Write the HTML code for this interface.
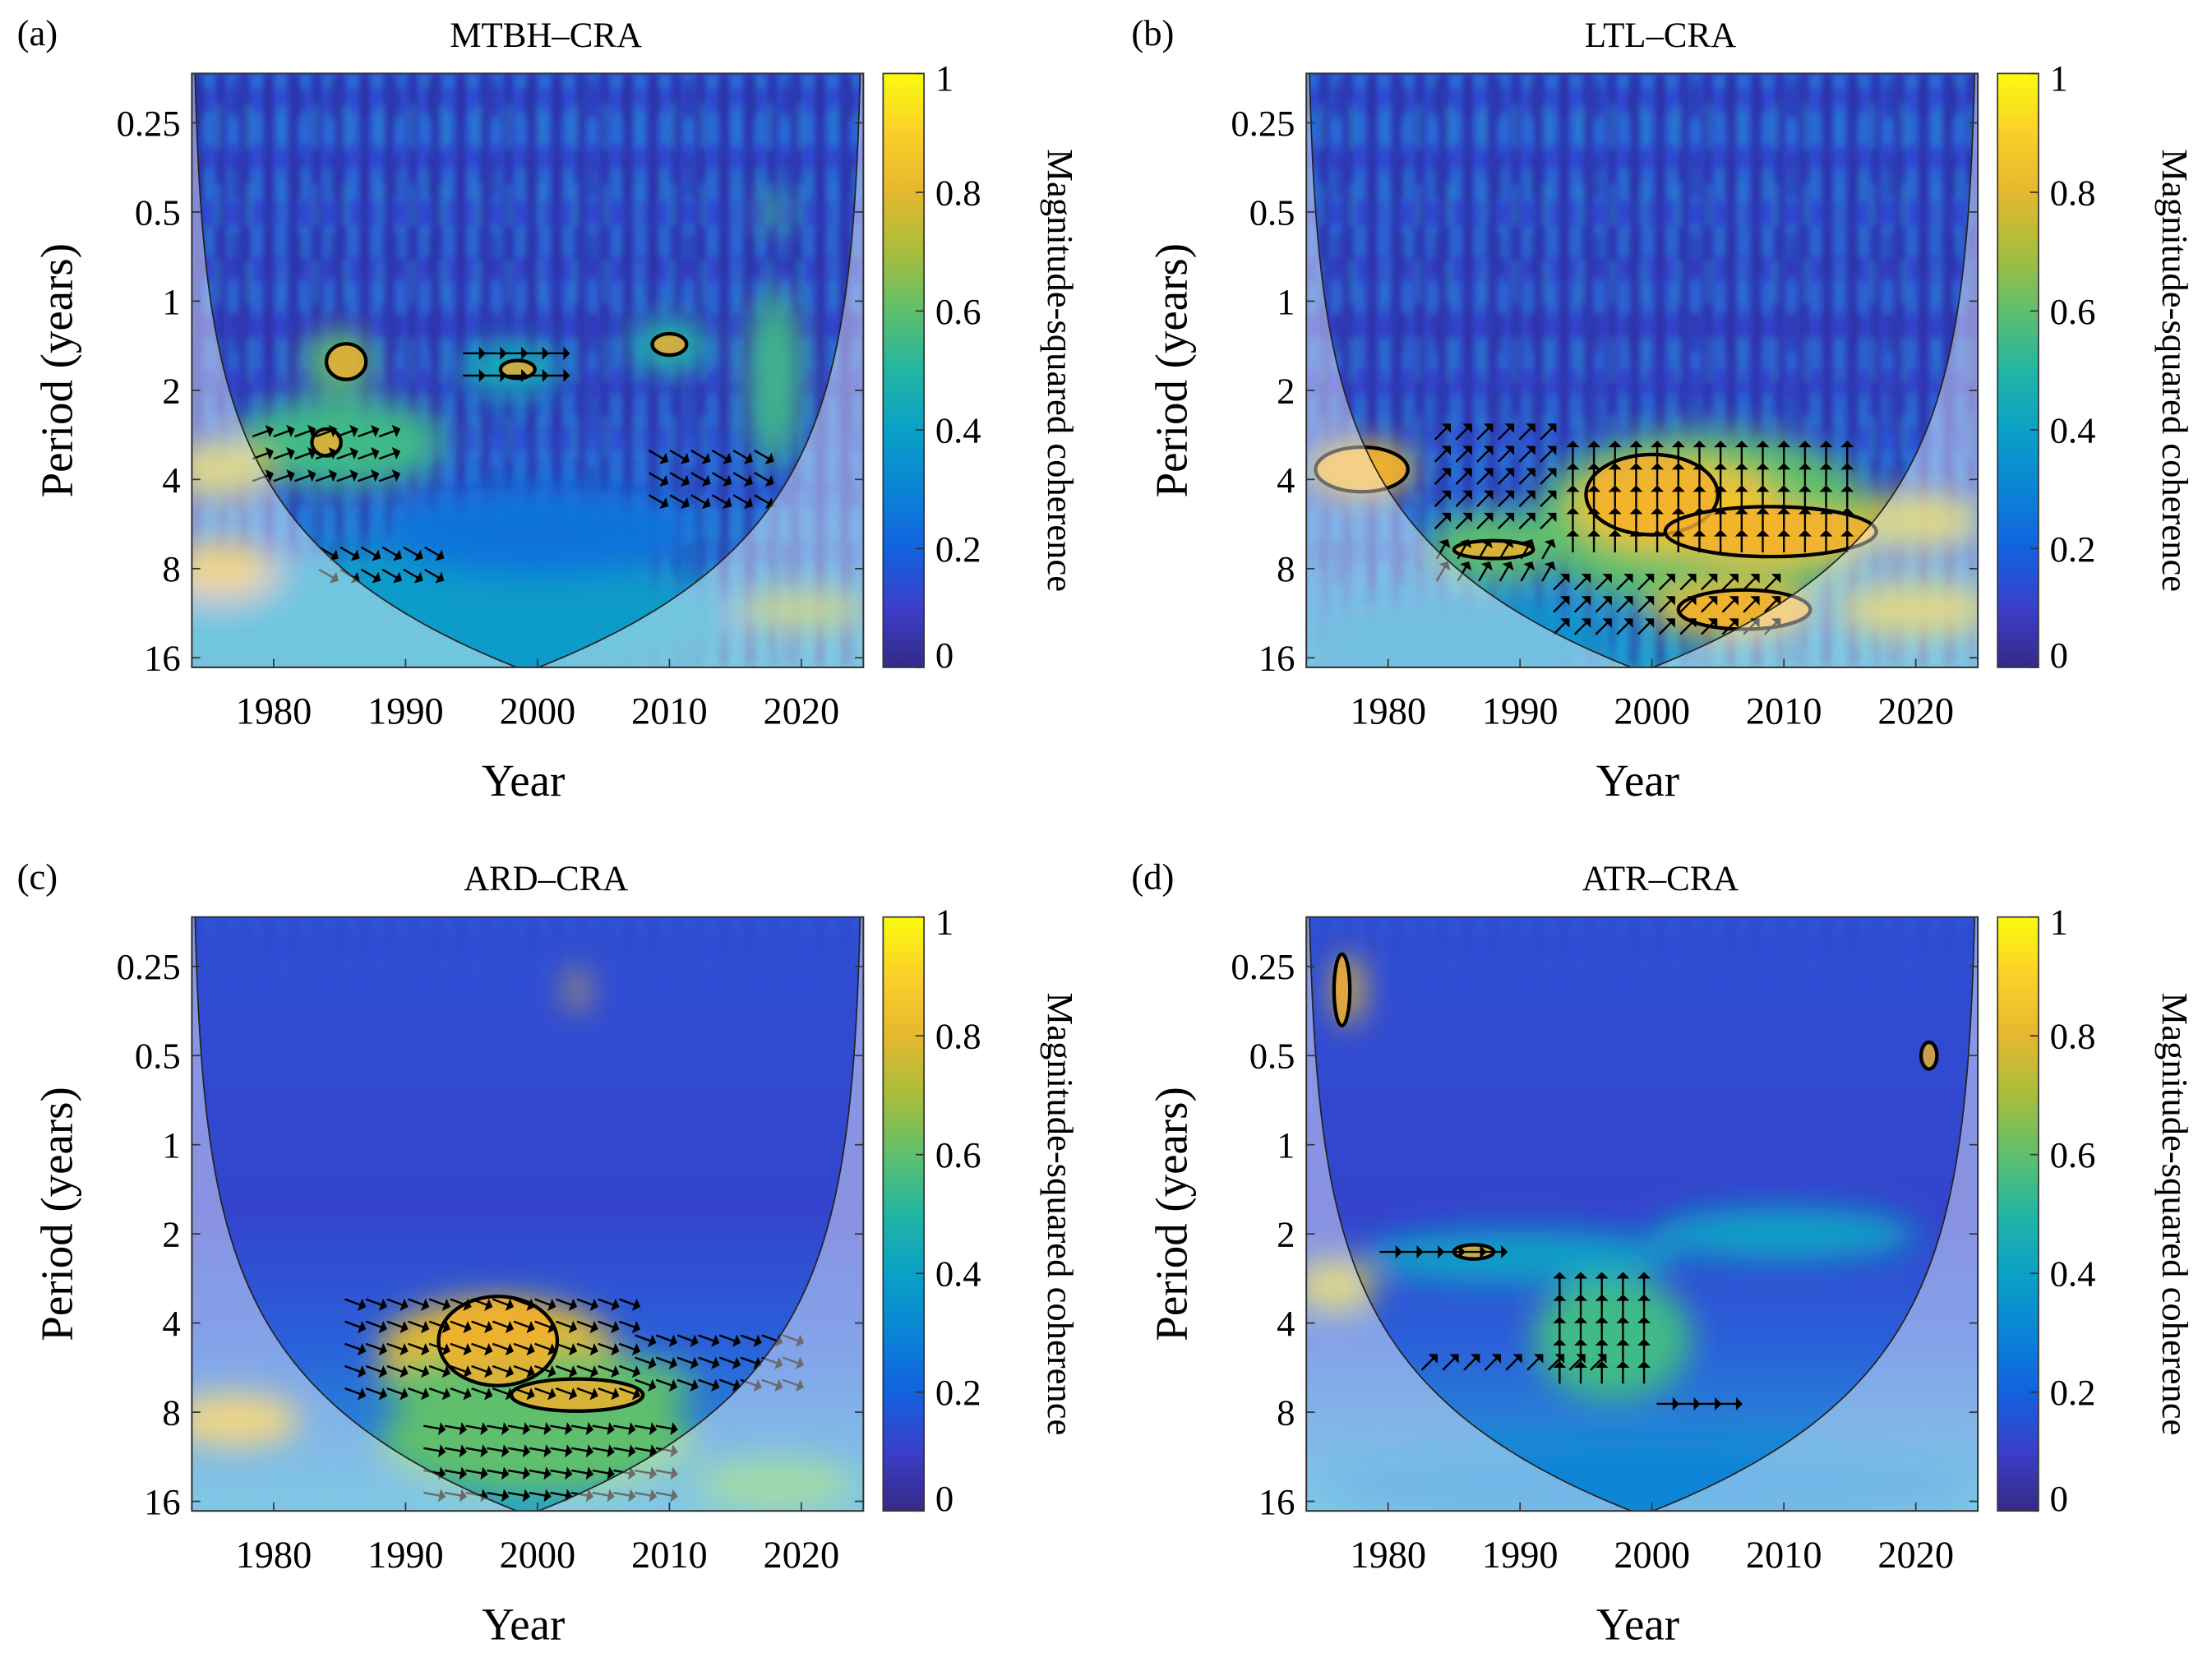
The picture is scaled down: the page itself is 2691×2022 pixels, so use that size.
<!DOCTYPE html>
<html><head><meta charset="utf-8">
<style>
html,body{margin:0;padding:0;background:#fff;}
svg{display:block;}
svg text{font-family:"Liberation Serif","DejaVu Serif",serif;}
</style></head>
<body>
<svg id="fig" width="2691" height="2022" viewBox="0 0 1568 1178" xmlns="http://www.w3.org/2000/svg" font-family="Liberation Serif, serif">
<defs>
<linearGradient id="parula" x1="0" y1="1" x2="0" y2="0">
<stop offset="0" stop-color="#352a87"/><stop offset="0.1" stop-color="#3b3fc9"/>
<stop offset="0.2" stop-color="#1262df"/><stop offset="0.3" stop-color="#0a84d6"/>
<stop offset="0.4" stop-color="#0aa1c6"/><stop offset="0.5" stop-color="#22b5a3"/>
<stop offset="0.6" stop-color="#5fbf6c"/><stop offset="0.7" stop-color="#a8bd3c"/>
<stop offset="0.8" stop-color="#e5b82f"/><stop offset="0.9" stop-color="#fbcf29"/>
<stop offset="1" stop-color="#f9fb0e"/></linearGradient>
<filter id="blur" x="-50%" y="-50%" width="200%" height="200%"><feGaussianBlur stdDeviation="11"/></filter>
<filter id="sblur"><feGaussianBlur stdDeviation="2.5"/></filter>
<pattern id="streaks" width="17" height="40" patternUnits="userSpaceOnUse"><rect width="7" height="40" fill="#2a2590" opacity="0.6"/><rect x="10" width="4" height="22" fill="#16a8d8" opacity="0.55"/></pattern>
<pattern id="streaks2" width="23" height="55" patternUnits="userSpaceOnUse"><rect x="3" width="5" height="30" fill="#2a2590" opacity="0.5"/><rect x="14" y="20" width="4" height="30" fill="#20b0d0" opacity="0.4"/></pattern>
<linearGradient id="streakfade" x1="0" y1="0" x2="0" y2="1"><stop offset="0" stop-color="#fff" stop-opacity="1"/><stop offset="0.4" stop-color="#fff" stop-opacity="0.7"/><stop offset="0.6" stop-color="#fff" stop-opacity="0"/></linearGradient>
<mask id="sm"><rect x="0" y="0" width="1568" height="1178" fill="url(#streakfade)"/></mask>
</defs>
</svg>
<script>
// ---- data ----
const panelLabels = ["(a)","(b)","(c)","(d)"];
const panelTitles = ["MTBH–CRA","LTL–CRA","ARD–CRA","ATR–CRA"];
const yearTicks = [1980,1990,2000,2010,2020];
const periodTicks = [0.25,0.5,1,2,4,8,16];
const periodTickLabels = ["0.25","0.5","1","2","4","8","16"];
const cbTicks = [0,0.2,0.4,0.6,0.8,1];
const cbTickLabels = ["0","0.2","0.4","0.6","0.8","1"];
// blobs: [centerYear, centerPeriod, halfWidthYears, halfHeightOctaves, coherence]
const blobsA = [[1985,3,8,0.5,0.55],[1985,1.6,2.5,0.35,0.6],[1998,1.7,4,0.3,0.45],[2010,1.4,3,0.3,0.5],[2018,1.8,2,1,0.55],[1990,12,25,0.8,0.38],[2000,6,12,0.5,0.25],[1976,8,4,0.3,0.8],[1976,3.7,4,0.3,0.75],[2020,11,5,0.2,0.7],[2018,0.5,1,0.2,0.55]];
const blobsB = [[2004,5.5,13,1.0,0.6],[2002,5.0,8,0.5,0.85],[2009,6.2,7,0.3,0.85],[1988,6.8,5,0.4,0.6],[2006,11,6,0.3,0.8],[1978,3.7,4,0.3,0.8],[2020,5.5,5,0.3,0.75],[2020,11,6,0.3,0.75],[1985,14,12,0.5,0.35]];
const blobsC = [[1997,5,9,0.6,0.8],[2000,10,12,0.6,0.6],[2000,6.5,12,0.4,0.6],[1977,8.5,5,0.3,0.8],[2018,14,6,0.3,0.6],[2003,0.3,0.6,0.25,0.8]];
const blobsD = [[1997,4.5,6,0.7,0.55],[1990,2.4,12,0.3,0.4],[2010,2,10,0.3,0.4],[1977,0.3,1,0.4,0.8],[1976,3,3,0.3,0.75],[2000,14,25,0.5,0.3]];
// significance contours: [centerYear, centerPeriod, halfWidthYears, halfHeightOctaves]
const sigA = [[1985.5,1.6,1.5,0.2],[1984,3,1.1,0.15],[1998.5,1.7,1.3,0.1],[2010,1.4,1.3,0.12]];
const sigB = [[2000,4.5,5,0.45],[2009,6.0,8,0.28],[1988,6.9,3,0.1],[2007,11,5,0.22],[1978,3.7,3.5,0.25]];
const sigC = [[1997,4.6,4.5,0.5],[2003,7,5,0.18]];
const sigD = [[1986.5,2.3,1.5,0.08],[2021,0.5,0.6,0.15],[1976.5,0.3,0.6,0.4]];
// arrow regions: [year0, year1, period0, period1, angleDeg]
const arrowsA = [[1979,1990,2.8,4,20],[1984,1993,7,8.5,-30],[2009,2018,3.3,5.5,-30],[1995,2002,1.5,1.9,0]];
const arrowsB = [[1984,1993,2.8,6,45],[1994,2016,3.3,7,90],[1993,2010,9,14,45],[1984,1992,7,8.5,60]];
const arrowsC = [[1986,2008,3.4,8,-20],[1992,2010,9,16,-10],[2008,2020,4.5,7,-20]];
const arrowsD = [[1993,2000,3,6,90],[1983,1996,5.5,6.5,45],[2001,2006,7.5,8,0],[1980,1988,2.3,2.5,0]];

const panels = [
 {ox:0,oy:0,blobs:blobsA,sig:sigA,arrows:arrowsA},
 {ox:790,oy:0,blobs:blobsB,sig:sigB,arrows:arrowsB},
 {ox:0,oy:598,blobs:blobsC,sig:sigC,arrows:arrowsC},
 {ox:790,oy:598,blobs:blobsD,sig:sigD,arrows:arrowsD}
];
const stops=[[0,"#352a87"],[0.1,"#3b3fc9"],[0.2,"#1262df"],[0.3,"#0a84d6"],[0.4,"#0aa1c6"],[0.5,"#22b5a3"],[0.6,"#5fbf6c"],[0.7,"#a8bd3c"],[0.8,"#e5b82f"],[0.9,"#fbcf29"],[1,"#f9fb0e"]];
function parula(v){v=Math.max(0,Math.min(1,v));let i=Math.min(9,Math.floor(v*10));const a=stops[i],b=stops[i+1];const t=(v-a[0])/0.1;
 const h=s=>[1,3,5].map(k=>parseInt(s.substr(k,2),16));const ca=h(a[1]),cb=h(b[1]);
 return "rgb("+ca.map((c,j)=>Math.round(c+(cb[j]-c)*t)).join(",")+")";}
const NS="http://www.w3.org/2000/svg";
const svg=document.getElementById("fig");
function el(tag,attrs,parent){const e=document.createElementNS(NS,tag);for(const k in attrs)e.setAttribute(k,attrs[k]);if(tag==="text")e.setAttribute("font-family","Liberation Serif, serif");(parent||svg).appendChild(e);return e;}

const PW=476, PH=421, Y0=1973.8, Y1=2024.7;
const LOGTOP=Math.log2(0.25)-35/63.2;
panels.forEach((p,idx)=>{
 const L=136+p.ox, T=52+p.oy;
 const xs=y=>L+(y-Y0)/(Y1-Y0)*PW;
 const ys=per=>T+(Math.log2(per)-LOGTOP)*63.2;
 const g=el("g",{});
 
 
 const clipId="clip"+idx;
 const cp=el("clipPath",{id:clipId},g);el("rect",{x:L,y:T,width:PW,height:PH},cp);
 const plot=el("g",{"clip-path":"url(#"+clipId+")"},g);
 const bg=el("linearGradient",{id:"bg"+idx,x1:0,y1:0,x2:0,y2:1},plot);
 [[0,"#2f4fd6"],[0.5,"#3444cc"],[0.72,"#2a60da"],[1,"#24a2d2"]].forEach(s=>el("stop",{offset:s[0],"stop-color":s[1]},bg));
 const base=el("rect",{x:L,y:T,width:PW,height:PH,fill:"url(#bg"+idx+")"},plot);
 
 
 const st=el("g",{mask:"url(#sm)",filter:"url(#sblur)"},plot);
 el("rect",{x:L,y:T,width:PW,height:PH,fill:"url(#streaks)"},st);
 el("rect",{x:L,y:T,width:PW,height:PH,fill:"url(#streaks2)"},st);
 const bl=el("g",{filter:"url(#blur)"},plot);
 p.blobs.forEach(b=>{
  const e=el("ellipse",{cx:xs(b[0]),cy:ys(b[1]),rx:b[2]/(Y1-Y0)*PW,ry:b[3]*63.2,fill:parula(b[4])},bl);
  
  
 });
 const sg=el("g",{},plot);
 p.sig.forEach(s=>{
  const e=el("ellipse",{cx:xs(s[0]),cy:ys(s[1]),rx:s[2]/(Y1-Y0)*PW,ry:s[3]*63.2,fill:"#f4b02c","fill-opacity":0.8,stroke:"#000","stroke-width":2.5},sg);
  
  
 });
 const ag=el("g",{stroke:"#000","stroke-width":1.4,fill:"#000"},plot);
 p.arrows.forEach(a=>{
  for(let yr=a[0];yr<=a[1];yr+=1.6){
   for(let lp=Math.log2(a[2]);lp<=Math.log2(a[3])+1e-6;lp+=0.25){
    const cx=xs(yr),cy=ys(Math.pow(2,lp));const r=a[4]*Math.PI/180;
    const dx=Math.cos(r)*6,dy=-Math.sin(r)*6;
    const ln=el("line",{x1:cx-dx,y1:cy-dy,x2:cx+dx,y2:cy+dy},ag);
    
    
    const hx=cx+dx,hy=cy+dy,px=-dy/6,py=dx/6;
    el("polygon",{points:`${hx+dx*0.5},${hy+dy*0.5} ${hx+px*3},${hy+py*3} ${hx-px*3},${hy-py*3}`},ag);
   }
  }
 });
 let left=[],right=[];
 for(let yy=T;yy<=T+PH+2;yy+=3){const per=Math.pow(2,(yy-T)/63.2+LOGTOP);let d=per/0.7;const mid=(Y0+Y1)/2;
  let xl=Math.min(Y0+d,mid),xr=Math.max(Y1-d,mid);if(xl>=mid){left.push([xs(mid),yy]);right.push([xs(mid),yy]);break;}
  left.push([xs(xl),yy]);right.push([xs(xr),yy]);}
 const cone=left.map(q=>q.join(",")).join(" L")+" L"+right.reverse().map(q=>q.join(",")).join(" L");
 const coi=el("path",{d:`M${L},${T} H${L+PW} V${T+PH} H${L} Z M${cone} Z`,"fill-rule":"evenodd",fill:"#fff","fill-opacity":0.42},plot);
 
 
 el("path",{d:"M"+cone,fill:"none",stroke:"#222","stroke-width":1},plot);
 el("rect",{x:L,y:T,width:PW,height:PH,fill:"none",stroke:"#333","stroke-width":1.2},g);
 periodTicks.forEach((pt,i)=>{const y=ys(pt);
  el("line",{x1:L,y1:y,x2:L+6,y2:y,stroke:"#333"},g);el("line",{x1:L+PW,y1:y,x2:L+PW-6,y2:y,stroke:"#333"},g);
  const t=el("text",{x:L-8,y:y+9,"text-anchor":"end","font-size":26},g);t.textContent=periodTickLabels[i];
  
  });
 yearTicks.forEach(yr=>{const x=xs(yr);
  el("line",{x1:x,y1:T+PH,x2:x,y2:T+PH-6,stroke:"#333"},g);
  const t=el("text",{x:x,y:T+PH+40,"text-anchor":"middle","font-size":27},g);t.textContent=yr;
  
  });
 const xt=el("text",{x:L+PW/2-3,y:T+PH+91,"text-anchor":"middle","font-size":32},g);xt.textContent="Year";
 
 
 const yt=el("text",{x:0,y:0,"text-anchor":"middle","font-size":32,transform:`translate(${L-85},${T+PH/2}) rotate(-90)`},g);yt.textContent="Period (years)";
 
 
 const ti=el("text",{x:L+PW/2+13,y:T-19,"text-anchor":"middle","font-size":25},g);ti.textContent=panelTitles[idx];
 
 
 const pl=el("text",{x:12+p.ox,y:T-20,"font-size":26},g);pl.textContent=panelLabels[idx];
 
 
 const cx0=L+490;
 const cb=el("rect",{x:cx0,y:T,width:29,height:PH,fill:"url(#parula)",stroke:"#333","stroke-width":1},g);
 
 
 cbTicks.forEach((v,i)=>{const y=T+PH-v*PH;
  el("line",{x1:cx0+29,y1:y,x2:cx0+23,y2:y,stroke:"#333"},g);
  const t=el("text",{x:cx0+37,y:y+(i==5?12:i==0?0:9),"font-size":26},g);t.textContent=cbTickLabels[i];
  
  });
 const cl=el("text",{x:0,y:0,"text-anchor":"middle","font-size":26,transform:`translate(${cx0+117},${T+PH/2}) rotate(90)`},g);cl.textContent="Magnitude-squared coherence";
 
 
});
</script>
</body></html>
